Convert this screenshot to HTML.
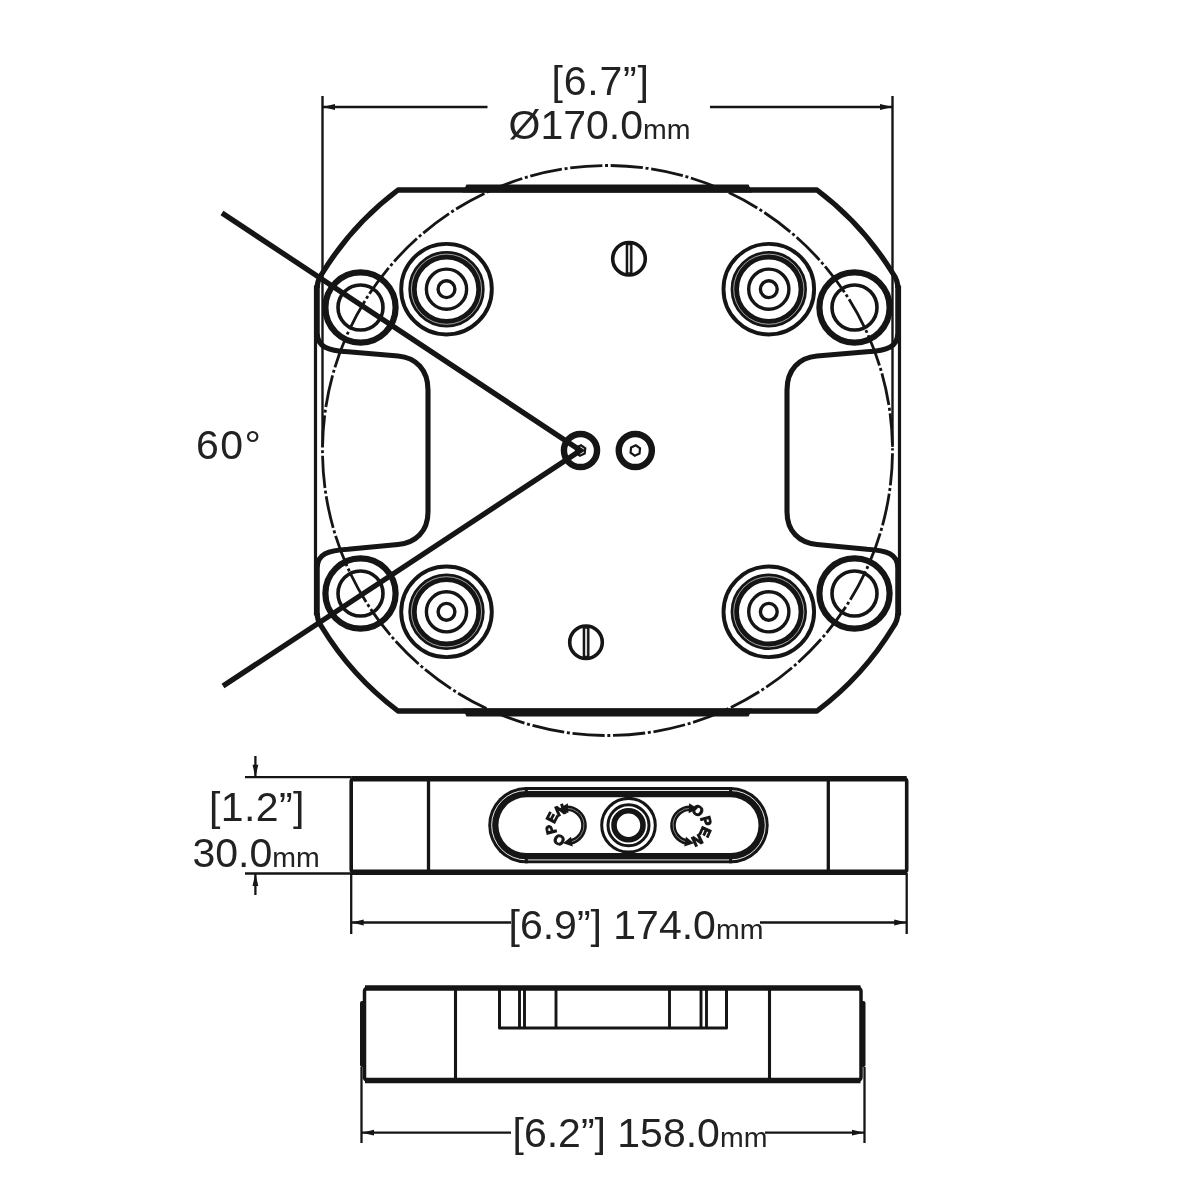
<!DOCTYPE html>
<html><head><meta charset="utf-8"><style>
html,body{margin:0;padding:0;background:#fff;width:1200px;height:1200px;overflow:hidden}
svg{display:block;will-change:transform}
</style></head><body>
<svg width="1200" height="1200" viewBox="0 0 1200 1200">
<rect width="1200" height="1200" fill="#fff"/>
<path d="M 892.5,450.5 A 285 285 0 0 1 322.5,450.5 A 285 285 0 0 1 892.5,450.5" fill="none" stroke="#151515" stroke-width="2.8" stroke-dasharray="32.298 2.7 3 2.7" stroke-dashoffset="38.016"/>
<path d="M 897.8,613 Q 897.8,620.5 893.5,626.5 A 301 301 0 0 1 817.0,711.0 L 398.0,711.0 A 301 301 0 0 1 321.5,626.5 Q 317.2,620.5 317.2,613" fill="none" stroke="#151515" stroke-width="5.3" stroke-linejoin="round" stroke-linecap="butt"/>
<path d="M 317.2,288 Q 317.2,280.5 321.5,274.5 A 301 301 0 0 1 398.0,190.0 L 817.0,190.0 A 301 301 0 0 1 893.5,274.5 Q 897.8,280.5 897.8,288" fill="none" stroke="#151515" stroke-width="5.3" stroke-linejoin="round" stroke-linecap="butt"/>
<line x1="315.5" y1="285.5" x2="315.5" y2="615.5" stroke="#151515" stroke-width="3.2"/>
<line x1="899.5" y1="285.5" x2="899.5" y2="615.5" stroke="#151515" stroke-width="3.2"/>
<polygon points="462.5,192.6 466.5,184.4 748.5,184.4 752.5,192.6" fill="#151515"/>
<polygon points="462.5,708.4 466.5,716.6 748.5,716.6 752.5,708.4" fill="#151515"/>
<path d="M 317.2,287 L 317.2,333 C 317.2,347 328,350.6 348,351.7 L 398,356 C 416,357.5 428,370 428,390 L 428,512 C 428,531 416,543 398,544.5 L 348,549.3 C 328,550.4 317.2,554 317.2,568 L 317.2,614" fill="none" stroke="#151515" stroke-width="5.1" stroke-linejoin="round"/>
<path d="M 897.8,287 L 897.8,333 C 897.8,347 887.0,350.6 867.0,351.7 L 817.0,356 C 799.0,357.5 787.0,370 787.0,390 L 787.0,512 C 787.0,531 799.0,543 817.0,544.5 L 867.0,549.3 C 887.0,550.4 897.8,554 897.8,568 L 897.8,614" fill="none" stroke="#151515" stroke-width="5.1" stroke-linejoin="round"/>
<circle cx="360.5" cy="307.5" r="35.1" fill="none" stroke="#151515" stroke-width="6.2"/>
<circle cx="360.5" cy="307.5" r="22.5" fill="none" stroke="#151515" stroke-width="3.6"/>
<circle cx="854.5" cy="307.5" r="35.1" fill="none" stroke="#151515" stroke-width="6.2"/>
<circle cx="854.5" cy="307.5" r="22.5" fill="none" stroke="#151515" stroke-width="3.6"/>
<circle cx="360.5" cy="593.5" r="35.1" fill="none" stroke="#151515" stroke-width="6.2"/>
<circle cx="360.5" cy="593.5" r="22.5" fill="none" stroke="#151515" stroke-width="3.6"/>
<circle cx="854.5" cy="593.5" r="35.1" fill="none" stroke="#151515" stroke-width="6.2"/>
<circle cx="854.5" cy="593.5" r="22.5" fill="none" stroke="#151515" stroke-width="3.6"/>
<circle cx="446.5" cy="289.2" r="45.3" fill="none" stroke="#151515" stroke-width="3.9"/>
<circle cx="446.5" cy="289.2" r="34.0" fill="none" stroke="#151515" stroke-width="8.4"/>
<circle cx="446.5" cy="289.2" r="35.1" fill="none" stroke="#fff" stroke-width="0.6"/>
<circle cx="446.5" cy="289.2" r="20.1" fill="none" stroke="#151515" stroke-width="3.4"/>
<circle cx="446.5" cy="289.2" r="8.4" fill="none" stroke="#151515" stroke-width="3.4"/>
<circle cx="768.8" cy="289.2" r="45.3" fill="none" stroke="#151515" stroke-width="3.9"/>
<circle cx="768.8" cy="289.2" r="34.0" fill="none" stroke="#151515" stroke-width="8.4"/>
<circle cx="768.8" cy="289.2" r="35.1" fill="none" stroke="#fff" stroke-width="0.6"/>
<circle cx="768.8" cy="289.2" r="20.1" fill="none" stroke="#151515" stroke-width="3.4"/>
<circle cx="768.8" cy="289.2" r="8.4" fill="none" stroke="#151515" stroke-width="3.4"/>
<circle cx="446.5" cy="611.8" r="45.3" fill="none" stroke="#151515" stroke-width="3.9"/>
<circle cx="446.5" cy="611.8" r="34.0" fill="none" stroke="#151515" stroke-width="8.4"/>
<circle cx="446.5" cy="611.8" r="35.1" fill="none" stroke="#fff" stroke-width="0.6"/>
<circle cx="446.5" cy="611.8" r="20.1" fill="none" stroke="#151515" stroke-width="3.4"/>
<circle cx="446.5" cy="611.8" r="8.4" fill="none" stroke="#151515" stroke-width="3.4"/>
<circle cx="768.8" cy="611.8" r="45.3" fill="none" stroke="#151515" stroke-width="3.9"/>
<circle cx="768.8" cy="611.8" r="34.0" fill="none" stroke="#151515" stroke-width="8.4"/>
<circle cx="768.8" cy="611.8" r="35.1" fill="none" stroke="#fff" stroke-width="0.6"/>
<circle cx="768.8" cy="611.8" r="20.1" fill="none" stroke="#151515" stroke-width="3.4"/>
<circle cx="768.8" cy="611.8" r="8.4" fill="none" stroke="#151515" stroke-width="3.4"/>
<circle cx="629" cy="258.75" r="16.3" fill="none" stroke="#151515" stroke-width="3.6"/>
<rect x="625.7" y="243.75" width="6.8" height="30" fill="#151515"/>
<rect x="628.1" y="245.25" width="2" height="27" fill="#ddd"/>
<circle cx="586" cy="642.25" r="16.3" fill="none" stroke="#151515" stroke-width="3.6"/>
<rect x="582.7" y="627.25" width="6.8" height="30" fill="#151515"/>
<rect x="585.1" y="628.75" width="2" height="27" fill="#ddd"/>
<circle cx="580.5" cy="450.5" r="16.55" fill="none" stroke="#151515" stroke-width="6.4"/>
<polygon points="584.71,453.56 579.96,455.67 575.75,452.62 576.29,447.44 581.04,445.33 585.25,448.38" fill="none" stroke="#151515" stroke-width="2.2"/>
<circle cx="635.3" cy="450.5" r="16.55" fill="none" stroke="#151515" stroke-width="6.4"/>
<polygon points="639.51,453.56 634.76,455.67 630.55,452.62 631.09,447.44 635.84,445.33 640.05,448.38" fill="none" stroke="#151515" stroke-width="2.2"/>
<polyline points="222,213 580.5,450.5 223,686" fill="none" stroke="#151515" stroke-width="5.3" stroke-linejoin="miter"/>
<line x1="322.5" y1="96" x2="322.5" y2="447" stroke="#151515" stroke-width="2.4"/>
<line x1="892.5" y1="96" x2="892.5" y2="447" stroke="#151515" stroke-width="2.4"/>
<line x1="322.5" y1="107" x2="487.5" y2="107" stroke="#151515" stroke-width="2.4"/>
<line x1="710" y1="107" x2="892.5" y2="107" stroke="#151515" stroke-width="2.4"/>
<polygon points="322.5,107 335.0,104.1 335.0,109.9" fill="#151515"/>
<polygon points="892.5,107 880.0,104.1 880.0,109.9" fill="#151515"/>
<rect x="351.2" y="778.6" width="555.5" height="93.7" rx="2.5" fill="none" stroke="#151515" stroke-width="3.6"/>
<line x1="351.2" y1="778.8" x2="906.7" y2="778.8" stroke="#151515" stroke-width="5.6"/>
<line x1="351.2" y1="872.3" x2="906.7" y2="872.3" stroke="#151515" stroke-width="5.4"/>
<line x1="428.5" y1="778" x2="428.5" y2="873" stroke="#151515" stroke-width="3.3"/>
<line x1="828.3" y1="778" x2="828.3" y2="873" stroke="#151515" stroke-width="3.3"/>
<rect x="488.25" y="787.1" width="280.45000000000005" height="76.19999999999993" rx="38.099999999999966" fill="#151515"/>
<rect x="498.45" y="797.3000000000001" width="260.05000000000007" height="55.79999999999993" rx="27.899999999999967" fill="#fff"/>
<rect x="491.65" y="790.5" width="273.65000000000003" height="69.39999999999993" rx="34.69999999999997" fill="none" stroke="#fff" stroke-width="0.9"/>
<rect x="524.8499999999999" y="787.1" width="3" height="6" fill="#151515"/>
<rect x="524.8499999999999" y="857.3" width="3" height="6" fill="#151515"/>
<rect x="729.1000000000001" y="787.1" width="3" height="6" fill="#151515"/>
<rect x="729.1000000000001" y="857.3" width="3" height="6" fill="#151515"/>
<circle cx="628.5" cy="825.3" r="26.8" fill="none" stroke="#151515" stroke-width="3"/>
<circle cx="628.5" cy="825.3" r="20.5" fill="none" stroke="#151515" stroke-width="3"/>
<circle cx="628.5" cy="825.3" r="14.5" fill="none" stroke="#151515" stroke-width="5.6"/>
<rect x="624.5" y="795" width="8" height="4" fill="#151515"/>
<rect x="624.5" y="851.5" width="8" height="4" fill="#151515"/>
<path d="M 566.11,808.32 A 17.0 17.0 0 0 1 569.95,842.04" fill="none" stroke="#151515" stroke-width="5.6"/>
<path d="M 566.11,808.32 A 17.0 17.0 0 0 1 569.95,842.04" fill="none" stroke="#fff" stroke-width="0.6" opacity="0.8"/>
<polygon points="559.12,808.69 567.85,803.23 568.37,813.21" fill="#151515"/>
<polygon points="563.06,843.26 571.05,836.77 572.79,846.62" fill="#151515"/>
<text x="0" y="0" transform="translate(559.11,840.13) rotate(208.0)" text-anchor="middle" dominant-baseline="central" style="font-family:'Liberation Sans',sans-serif;font-weight:700;font-size:14px" fill="#151515" stroke="#151515" stroke-width="1.2">O</text>
<text x="0" y="0" transform="translate(550.70,829.36) rotate(256.0)" text-anchor="middle" dominant-baseline="central" style="font-family:'Liberation Sans',sans-serif;font-weight:700;font-size:14px" fill="#151515" stroke="#151515" stroke-width="1.2">P</text>
<text x="0" y="0" transform="translate(552.03,817.67) rotate(297.0)" text-anchor="middle" dominant-baseline="central" style="font-family:'Liberation Sans',sans-serif;font-weight:700;font-size:14px" fill="#151515" stroke="#151515" stroke-width="1.2">E</text>
<text x="0" y="0" transform="translate(560.44,809.84) rotate(337.0)" text-anchor="middle" dominant-baseline="central" style="font-family:'Liberation Sans',sans-serif;font-weight:700;font-size:14px" fill="#151515" stroke="#151515" stroke-width="1.2">N</text>
<path d="M 690.89,808.32 A 17.0 17.0 0 0 0 687.05,842.04" fill="none" stroke="#151515" stroke-width="5.6"/>
<path d="M 690.89,808.32 A 17.0 17.0 0 0 0 687.05,842.04" fill="none" stroke="#fff" stroke-width="0.6" opacity="0.8"/>
<polygon points="697.88,808.69 688.63,813.21 689.15,803.23" fill="#151515"/>
<polygon points="693.94,843.26 684.21,846.62 685.95,836.77" fill="#151515"/>
<text x="0" y="0" transform="translate(697.89,810.47) rotate(28.0)" text-anchor="middle" dominant-baseline="central" style="font-family:'Liberation Sans',sans-serif;font-weight:700;font-size:14px" fill="#151515" stroke="#151515" stroke-width="1.2">O</text>
<text x="0" y="0" transform="translate(706.23,820.95) rotate(75.0)" text-anchor="middle" dominant-baseline="central" style="font-family:'Liberation Sans',sans-serif;font-weight:700;font-size:14px" fill="#151515" stroke="#151515" stroke-width="1.2">P</text>
<text x="0" y="0" transform="translate(705.35,832.13) rotate(114.0)" text-anchor="middle" dominant-baseline="central" style="font-family:'Liberation Sans',sans-serif;font-weight:700;font-size:14px" fill="#151515" stroke="#151515" stroke-width="1.2">E</text>
<text x="0" y="0" transform="translate(697.23,840.46) rotate(154.5)" text-anchor="middle" dominant-baseline="central" style="font-family:'Liberation Sans',sans-serif;font-weight:700;font-size:14px" fill="#151515" stroke="#151515" stroke-width="1.2">N</text>
<line x1="245" y1="777.2" x2="351" y2="777.2" stroke="#151515" stroke-width="2.3"/>
<line x1="245" y1="873.5" x2="351" y2="873.5" stroke="#151515" stroke-width="2.3"/>
<line x1="255.4" y1="756" x2="255.4" y2="777" stroke="#151515" stroke-width="2.3"/>
<line x1="255.4" y1="874" x2="255.4" y2="895" stroke="#151515" stroke-width="2.3"/>
<polygon points="255.4,777.2 252.5,764.7 258.3,764.7" fill="#151515"/>
<polygon points="255.4,873.5 252.5,886.0 258.3,886.0" fill="#151515"/>
<line x1="351.2" y1="873" x2="351.2" y2="934" stroke="#151515" stroke-width="2.3"/>
<line x1="906.7" y1="873" x2="906.7" y2="934" stroke="#151515" stroke-width="2.3"/>
<line x1="351.2" y1="922.5" x2="511" y2="922.5" stroke="#151515" stroke-width="2.3"/>
<line x1="760" y1="922.5" x2="906.7" y2="922.5" stroke="#151515" stroke-width="2.3"/>
<polygon points="351.2,922.5 363.7,919.6 363.7,925.4" fill="#151515"/>
<polygon points="906.7,922.5 894.2,919.6 894.2,925.4" fill="#151515"/>
<rect x="364.5" y="988" width="496.5" height="92.5" rx="3" fill="none" stroke="#151515" stroke-width="3.5"/>
<line x1="365" y1="988" x2="860.5" y2="988" stroke="#151515" stroke-width="5.3"/>
<line x1="365" y1="1080.5" x2="860.5" y2="1080.5" stroke="#151515" stroke-width="5.3"/>
<rect x="360" y="1001" width="5" height="66" rx="2" fill="#151515"/>
<rect x="860.5" y="1001" width="5" height="66" rx="2" fill="#151515"/>
<line x1="455.5" y1="988" x2="455.5" y2="1080" stroke="#151515" stroke-width="3.1"/>
<line x1="769.5" y1="988" x2="769.5" y2="1080" stroke="#151515" stroke-width="3.1"/>
<polyline points="499.5,988 499.5,1028 726.5,1028 726.5,988" fill="none" stroke="#151515" stroke-width="3" stroke-linejoin="round"/>
<line x1="519.5" y1="988" x2="519.5" y2="1028" stroke="#151515" stroke-width="2.9"/>
<line x1="524.5" y1="988" x2="524.5" y2="1028" stroke="#151515" stroke-width="2.9"/>
<line x1="556" y1="988" x2="556" y2="1028" stroke="#151515" stroke-width="2.9"/>
<line x1="669.5" y1="988" x2="669.5" y2="1028" stroke="#151515" stroke-width="2.9"/>
<line x1="701" y1="988" x2="701" y2="1028" stroke="#151515" stroke-width="2.9"/>
<line x1="706.5" y1="988" x2="706.5" y2="1028" stroke="#151515" stroke-width="2.9"/>
<line x1="361.5" y1="1067" x2="361.5" y2="1143" stroke="#151515" stroke-width="2.3"/>
<line x1="864.5" y1="1067" x2="864.5" y2="1143" stroke="#151515" stroke-width="2.3"/>
<line x1="361.5" y1="1132.7" x2="511" y2="1132.7" stroke="#151515" stroke-width="2.3"/>
<line x1="765" y1="1132.7" x2="864.5" y2="1132.7" stroke="#151515" stroke-width="2.3"/>
<polygon points="361.5,1132.7 374.0,1129.8 374.0,1135.6000000000001" fill="#151515"/>
<polygon points="864.5,1132.7 852.0,1129.8 852.0,1135.6000000000001" fill="#151515"/>
<text x="551.5" y="94.5" font-family="Liberation Sans, sans-serif" font-size="41" letter-spacing="0.8" fill="#222">[6.7”]</text>
<text x="508.5" y="139.3" font-family="Liberation Sans, sans-serif" font-size="41" letter-spacing="0" fill="#222">Ø170.0<tspan font-size="28.5">mm</tspan></text>
<text x="196" y="458.8" font-family="Liberation Sans, sans-serif" font-size="41" letter-spacing="1.5" fill="#222">60°</text>
<text x="209" y="820.6" font-family="Liberation Sans, sans-serif" font-size="41" letter-spacing="0.4" fill="#222">[1.2”]</text>
<text x="192.5" y="867.3" font-family="Liberation Sans, sans-serif" font-size="41" letter-spacing="0" fill="#222">30.0<tspan font-size="28.5">mm</tspan></text>
<text x="508.5" y="939" font-family="Liberation Sans, sans-serif" font-size="41" letter-spacing="0" fill="#222">[6.9”] 174.0<tspan font-size="28.5">mm</tspan></text>
<text x="512.5" y="1146.6" font-family="Liberation Sans, sans-serif" font-size="41" letter-spacing="0" fill="#222">[6.2”] 158.0<tspan font-size="28.5">mm</tspan></text>
</svg>
</body></html>
